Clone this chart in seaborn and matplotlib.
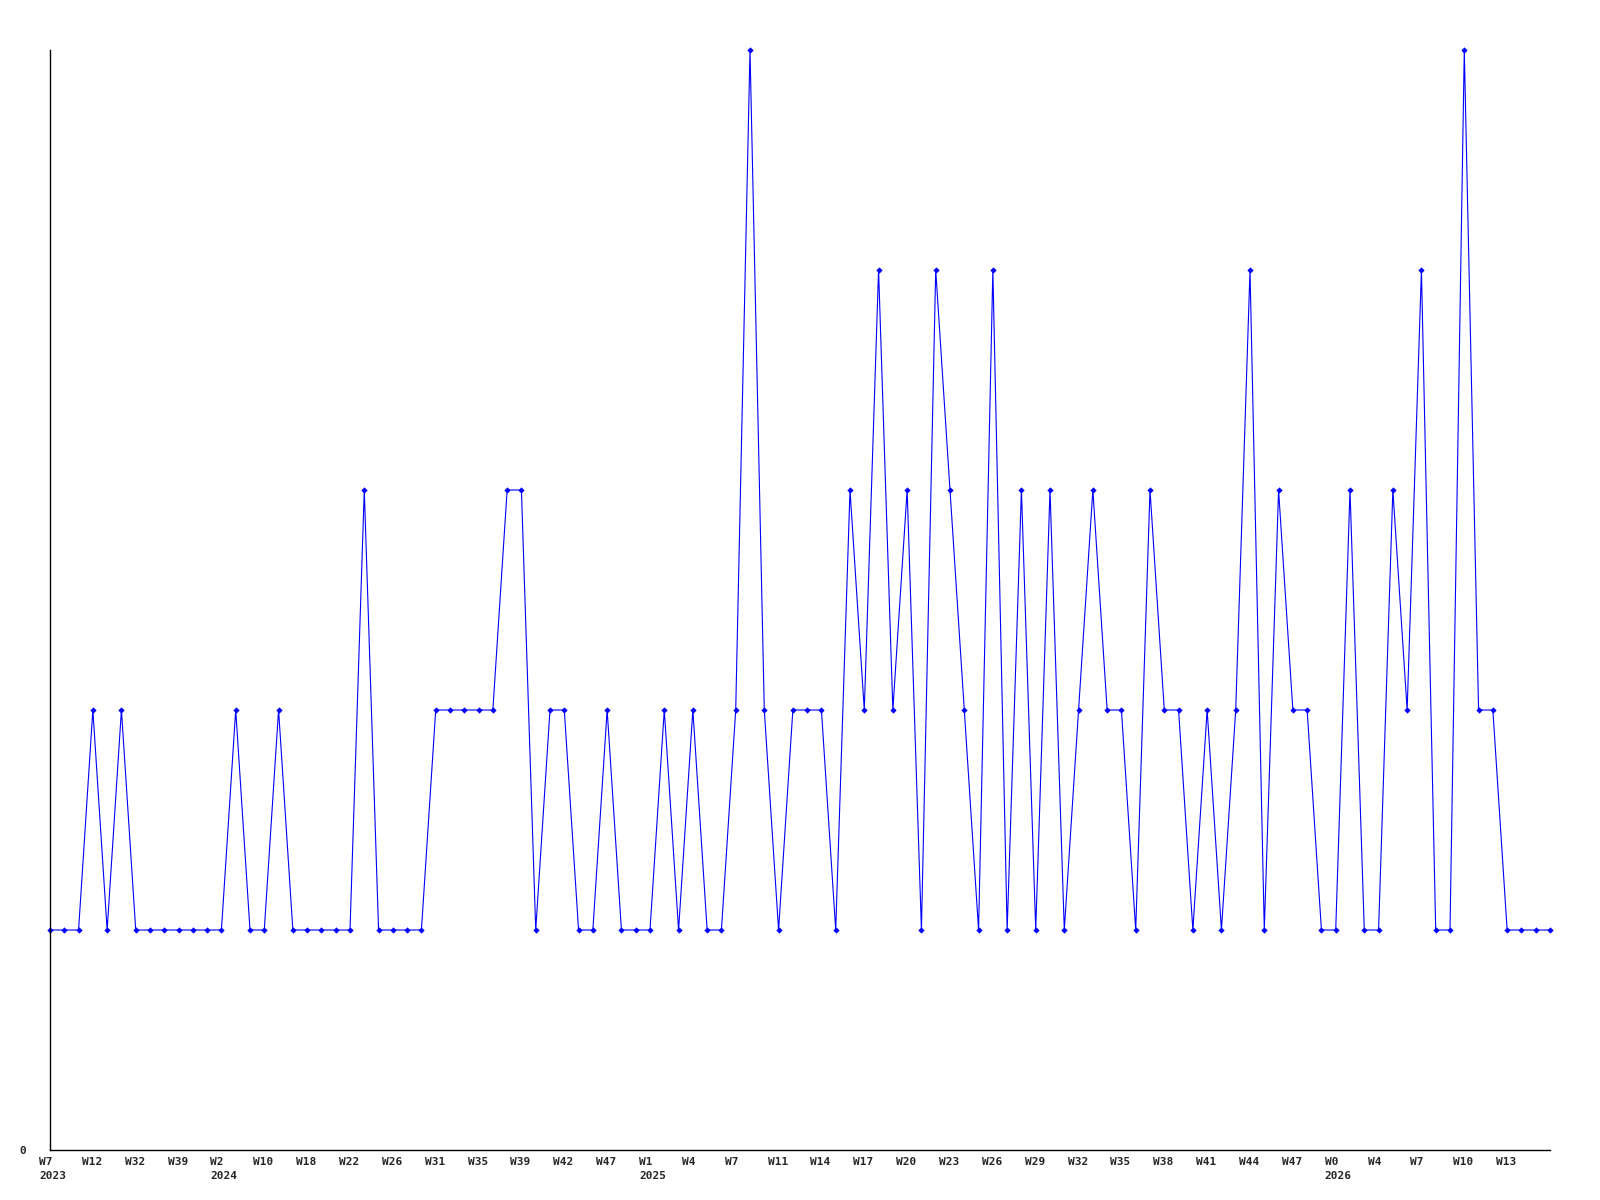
import pandas as pd
import matplotlib.pyplot as plt
import matplotlib.transforms as mtransforms
import seaborn as sns

# weekly counts, one value per week
counts = [
    1, 1, 1, 2, 1, 2, 1, 1, 1, 1, 1, 1, 1, 2, 1, 1, 2, 1, 1, 1,
    1, 1, 3, 1, 1, 1, 1, 2, 2, 2, 2, 2, 3, 3, 1, 2, 2, 1, 1, 2,
    1, 1, 1, 2, 1, 2, 1, 1, 2, 5, 2, 1, 2, 2, 2, 1, 3, 2, 4, 2,
    3, 1, 4, 3, 2, 1, 4, 1, 3, 1, 3, 1, 2, 3, 2, 2, 1, 3, 2, 2,
    1, 2, 1, 2, 4, 1, 3, 2, 2, 1, 1, 3, 1, 1, 3, 2, 4, 1, 1, 5,
    2, 2, 1, 1, 1, 1,
]

# one label every third week
tick_labels = [
    "W7\n2023", "W12", "W32", "W39", "W2\n2024", "W10", "W18", "W22",
    "W26", "W31", "W35", "W39", "W42", "W47", "W1\n2025", "W4", "W7",
    "W11", "W14", "W17", "W20", "W23", "W26", "W29", "W32", "W35",
    "W38", "W41", "W44", "W47", "W0\n2026", "W4", "W7", "W10", "W13",
]

df = pd.DataFrame({"week": range(len(counts)), "count": counts})

sns.set_style("white")
plt.rcParams["font.family"] = ["DejaVu Sans Mono"]

fig = plt.figure(figsize=(16, 12), dpi=100)
ax = fig.add_axes([50 / 1600, 50 / 1200, 1500 / 1600, 1100 / 1200])

sns.lineplot(
    data=df, x="week", y="count", ax=ax,
    color="#0000ff", linewidth=0.8,
    marker="D", markersize=3.2, markeredgewidth=0,
    clip_on=False,
)

ax.set_xlim(0, len(counts) - 1)
ax.set_ylim(0, 5)
ax.set_xlabel("")
ax.set_ylabel("")

for side in ["top", "right"]:
    ax.spines[side].set_visible(False)
for side in ["left", "bottom"]:
    ax.spines[side].set_color("black")
    ax.spines[side].set_linewidth(1)

ax.set_yticks([0])
ax.set_yticklabels(["0"], fontsize=8, fontweight="bold")
ax.tick_params(axis="y", length=0, pad=17)

ax.set_xticks(range(0, 3 * len(tick_labels), 3))
ax.set_xticklabels(tick_labels, fontsize=8, fontweight="bold", linespacing=1.55)
ax.tick_params(axis="x", length=0, pad=5)

shift = mtransforms.ScaledTranslation(-11 / 100, 0, fig.dpi_scale_trans)
for lbl in ax.get_xticklabels():
    lbl.set_horizontalalignment("left")
    lbl.set_multialignment("left")
    lbl.set_transform(lbl.get_transform() + shift)

fig.savefig("out.png", dpi=100)
